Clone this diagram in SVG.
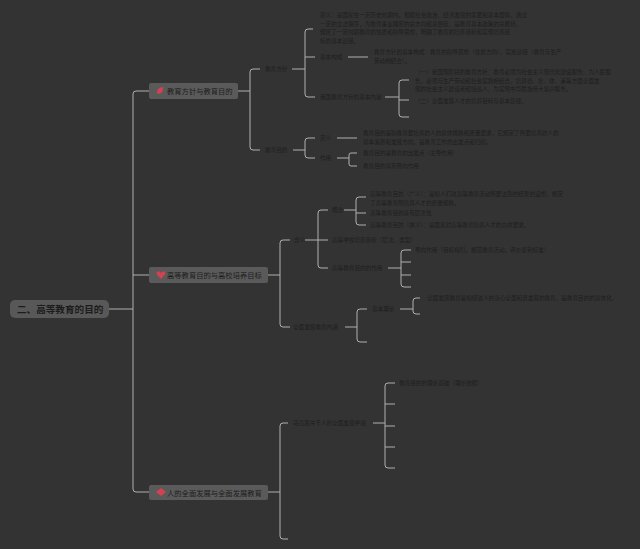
<svg xmlns="http://www.w3.org/2000/svg" width="640" height="549" viewBox="0 0 640 549">
<style>
.bg{fill:#333333}
.root{fill:#585858}
.l1{fill:#5a5a5a}
.tr{font-family:"Noto Sans CJK SC","Noto Sans",sans-serif;font-size:9.6px;font-weight:bold;fill:#1c1c1c;dominant-baseline:central}
.t1{font-family:"Noto Sans CJK SC","Noto Sans",sans-serif;font-size:7.3px;fill:#1c1c1c;dominant-baseline:central}
.t{font-family:"Noto Sans CJK SC","Noto Sans",sans-serif;font-size:5.6px;fill:#1e1e1e;dominant-baseline:central}
.c{fill:none;stroke:#b0b0b0;stroke-width:1}
.ic{fill:#d2424f}
</style>
<rect class="bg" x="0" y="0" width="640" height="549"/>
<g id="connectors">
<path class="c" d="M109,309 H133"/>
<path class="c" d="M149,91 H136 Q133,91 133,94 V489 Q133,492 136,492 H149 M133,275 H149"/>
<path class="c" d="M238,91 H250 M260,69 H253 Q250,69 250,72 V147 Q250,150 253,150 H260"/>
<path class="c" d="M292,69 H305 M313,29 H308 Q305,29 305,32 V94 Q305,97 308,97 H315 M305,57 H315"/>
<path class="c" d="M348,57 H368"/>
<path class="c" d="M385,97 H399 M409,80 H402 Q399,80 399,83 V114 Q399,117 402,117 H409 M399,100 H409"/>
<path class="c" d="M293,150 H305 M315,138 H308 Q305,138 305,141 V155 Q305,158 308,158 H315"/>
<path class="c" d="M337,138 H357"/>
<path class="c" d="M337,158 H349 M357,153 H351 Q349,153 349,155 V164 Q349,166 351,166 H357"/>
<path class="c" d="M268,275 H280 M290,240 H283 Q280,240 280,243 V324 Q280,327 283,327 H290"/>
<path class="c" d="M305,240 H318 M328,210 H321 Q318,210 318,213 V265 Q318,268 321,268 H328 M318,240 H328"/>
<path class="c" d="M344,210 H356 M366,197 H359 Q356,197 356,200 V222 Q356,225 359,225 H366 M356,213 H366"/>
<path class="c" d="M388,268 H401 M411,250 H404 Q401,250 401,253 V284 Q401,287 404,287 H411 M401,262 H411 M401,275 H411"/>
<path class="c" d="M345,327 H357 M367,309 H360 Q357,309 357,312 V339 Q357,342 360,342 H367"/>
<path class="c" d="M400,309 H413 M420,298 H416 Q413,298 413,301 V311 Q413,314 416,314 H420"/>
<path class="c" d="M268,492 H280 M288,423 H283 Q280,423 280,426 V536 Q280,539 283,539 H288"/>
<path class="c" d="M373,423 H385 M395,383 H388 Q385,383 385,386 V465 Q385,468 388,468 H395 M385,404 H395 M385,426 H395 M385,447 H395"/>
</g>
<g id="root">
<rect class="root" x="10" y="300" width="99" height="18" rx="5"/>
<text class="tr" x="17" y="309">二、高等教育的目的</text>
</g>
<g id="n1">
<rect class="l1" x="149" y="83" width="89" height="16" rx="2"/>
<path class="ic" d="M157,93 Q157,87 163,87 Q164,93 158,94 Z"/>
<text class="t1" x="167" y="91">教育方针与教育目的</text>
</g>
<g id="n2">
<rect class="l1" x="149" y="267" width="119" height="16" rx="2"/>
<path class="ic" d="M161,279 L157,274.5 Q156,271.5 158.5,271.3 Q160,271.3 161,273 Q162,271.3 163.5,271.3 Q166,271.5 165,274.5 Z"/>
<text class="t1" x="167" y="275">高等教育目的与高校培养目标</text>
</g>
<g id="n3">
<rect class="l1" x="149" y="485" width="119" height="15" rx="2"/>
<path class="ic" d="M156,492 L161,488 L166,492 L161,496 Z"/>
<text class="t1" x="167" y="492.5">人的全面发展与全面发展教育</text>
</g>
<g id="n1a"><text class="t" x="265" y="69">教育方针</text></g>
<g id="n1a1">
<text class="t" x="320" y="15">定义：是国家在一定历史时期内，根据社会政治、经济发展的需要和基本国情，通过</text>
<text class="t" x="320" y="23.5">一定的立法程序，为教育事业确定的总方向和总目标，是教育基本政策的总概括，</text>
<text class="t" x="320" y="32">规定了一定时期教育的性质和指导思想，明确了教育的培养目标和实现培养目</text>
<text class="t" x="320" y="40.5">标的基本途径。</text>
</g>
<g id="n1a2"><text class="t" x="320" y="57">基本构成</text></g>
<g id="n1a2a">
<text class="t" x="374" y="52">教育方针的基本构成：教育的指导思想（性质方向），实施途径（教育与生产</text>
<text class="t" x="374" y="60.5">劳动相结合）。</text>
</g>
<g id="n1a3"><text class="t" x="320" y="97">我国教育方针的基本内容</text></g>
<g id="n1a3a">
<text class="t" x="415" y="72">（一）我国现阶段的教育方针：教育必须为社会主义现代化建设服务、为人民服</text>
<text class="t" x="415" y="80.5">务，必须与生产劳动和社会实践相结合，培养德、智、体、美等方面全面发</text>
<text class="t" x="415" y="89">展的社会主义建设者和接班人，为实现中华民族伟大复兴服务。</text>
</g>
<g id="n1a3b"><text class="t" x="415" y="101">（二）全面发展人才的培养目标与基本途径。</text></g>
<g id="n1b"><text class="t" x="265" y="150">教育目的</text></g>
<g id="n1b1"><text class="t" x="320" y="138">定义</text></g>
<g id="n1b1a">
<text class="t" x="363" y="133">教育目的是指教育要培养的人的总体规格和质量要求，它规定了所要培养的人的</text>
<text class="t" x="363" y="141.5">基本素质和发展方向，是教育工作的出发点和归宿。</text>
</g>
<g id="n1b2"><text class="t" x="320" y="158">作用</text></g>
<g id="n1b2a"><text class="t" x="363" y="153">教育目的是教育的出发点（主导作用）</text></g>
<g id="n1b2b"><text class="t" x="363" y="166">教育目的具有导向作用</text></g>
<g id="n2a"><text class="t" x="294" y="240">含义</text></g>
<g id="n2a1"><text class="t" x="332" y="210">概念</text></g>
<g id="n2a1a">
<text class="t" x="370" y="194">高等教育目的（广义）：是指人们对高等教育活动所要达到的结果的设想，规定</text>
<text class="t" x="370" y="202.5">了高等教育所培养人才的质量规格。</text>
</g>
<g id="n2a1b"><text class="t" x="370" y="213">高等教育目的具有层次性</text></g>
<g id="n2a1c"><text class="t" x="370" y="225">高等教育目的（狭义）：是国家对高等教育培养人才的总体要求。</text></g>
<g id="n2a2"><text class="t" x="332" y="240">高等学校培养目标（层次、类型）</text></g>
<g id="n2a3"><text class="t" x="332" y="268">高等教育目的的作用</text></g>
<g id="n2a3a"><text class="t" x="415" y="250">导向作用（目标指引，规范教育活动，评价鉴别标准）</text></g>
<g id="n2b"><text class="t" x="293" y="327">全面发展教育内涵</text></g>
<g id="n2b1"><text class="t" x="372" y="309">基本理论</text></g>
<g id="n2b1a"><text class="t" x="427" y="298">全面发展教育是指促进人的身心全面和谐发展的教育，是教育目的的具体化。</text></g>
<g id="n3a"><text class="t" x="293" y="423">马克思关于人的全面发展学说</text></g>
<g id="n3a1"><text class="t" x="399" y="383">教育目的的理论基础（理论依据）</text></g>
</svg>
